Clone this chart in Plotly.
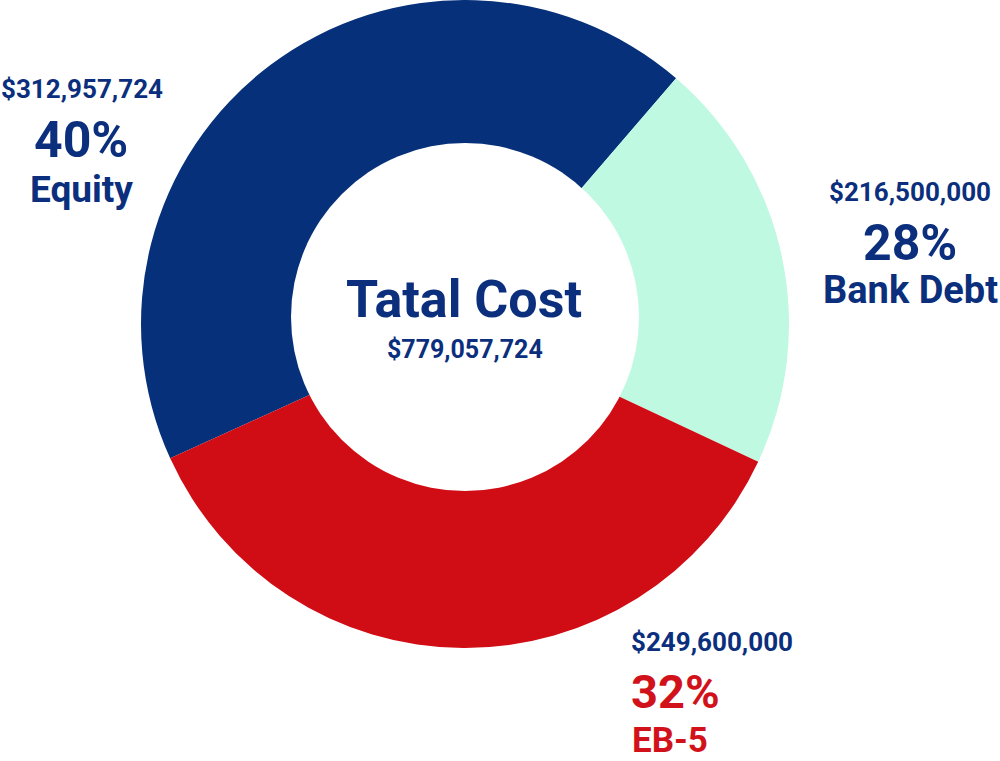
import plotly.graph_objects as go

# ---- data ----
categories = ["Equity", "Bank Debt", "EB-5"]
amounts = [312957724, 216500000, 249600000]
percent_labels = ["40%", "28%", "32%"]
slice_shares = [43.1, 20.7, 36.2]
total_label = "$779,057,724"
center_title = "Tatal Cost"

# ---- styles ----
W, H = 1000, 761
NAVY = "#06307A"
MINT = "#C0F9E2"
RED = "#D00C15"
TXT_NAVY = "#0B2F7D"
TXT_RED = "#D1121A"
slice_colors = [NAVY, MINT, RED]
FONT = "Roboto"

def px(x):
    return x / W

def py(y):
    return 1 - y / H

fig = go.Figure()
fig.add_trace(go.Pie(
    labels=categories,
    values=slice_shares,
    marker=dict(colors=slice_colors, line=dict(width=0)),
    sort=False,
    direction="clockwise",
    rotation=245.5,
    hole=0.5,
    textinfo="none",
    hoverinfo="skip",
    showlegend=False,
    domain=dict(x=[px(141), px(789)], y=[py(648), py(0)]),
))

# inner white disc (slightly offset upward as in the reference)
fig.add_shape(type="circle", xref="paper", yref="paper",
              x0=px(465 - 174), x1=px(465 + 174),
              y0=py(317 + 174), y1=py(317 - 174),
              fillcolor="#FFFFFF", line=dict(width=0), layer="above")

def fmt_amount(v):
    return "${:,}".format(v)

annos = []
def add(text, x, y, size, color, xanchor="center"):
    annos.append(dict(text=text, x=px(x), y=py(y), xref="paper", yref="paper",
                      xanchor=xanchor, yanchor="middle", showarrow=False,
                      font=dict(family=FONT, size=size, color=color, weight=700)))

# Equity (left, centred)
add(fmt_amount(amounts[0]), 82, 89, 26, TXT_NAVY)
add(percent_labels[0], 81, 140, 50, TXT_NAVY)
add(categories[0], 81, 190, 37, TXT_NAVY)
# Bank Debt (right, centred)
add(fmt_amount(amounts[1]), 910, 192, 26, TXT_NAVY)
add(percent_labels[1], 910, 243, 50, TXT_NAVY)
add(categories[1], 910, 290, 38, TXT_NAVY)
# EB-5 (bottom, left aligned)
add(fmt_amount(amounts[2]), 629, 642, 26, TXT_NAVY, "left")
add(percent_labels[2], 629, 691, 47, TXT_RED, "left")
add(categories[2], 630, 740, 35, TXT_RED, "left")
# centre
add(center_title, 464, 300, 52, TXT_NAVY)
add(total_label, 465, 349, 25, TXT_NAVY)

fig.update_layout(
    width=W, height=H,
    margin=dict(l=0, r=0, t=0, b=0),
    paper_bgcolor="#FFFFFF",
    plot_bgcolor="#FFFFFF",
    annotations=annos,
)

fig.write_html("out.html",
               config={"displayModeBar": False},
               post_script="document.body.style.margin='0';document.body.style.overflow='hidden';")
